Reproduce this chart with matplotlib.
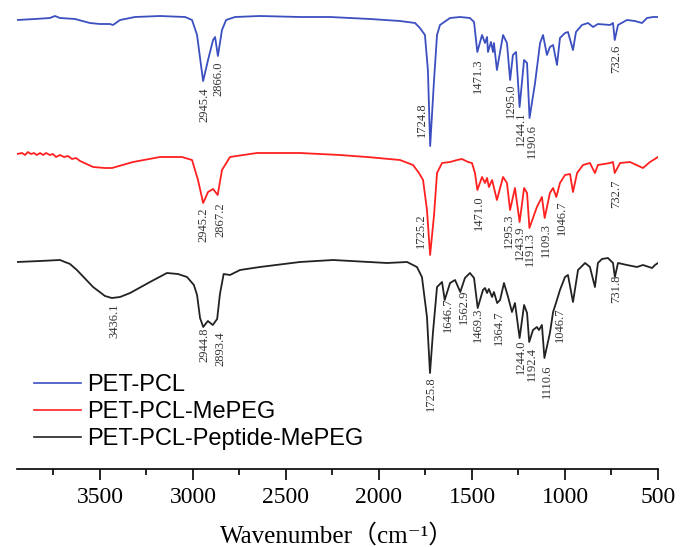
import matplotlib
matplotlib.use('Agg')
import matplotlib.pyplot as plt
from matplotlib.ticker import MultipleLocator

# wavenumber (cm-1) and transmittance (a.u., stacked)
wn_pcl = [3946, 3849, 3769, 3742, 3715, 3634, 3554, 3500, 3446, 3430, 3392, 3312, 3177, 3042,
          3005, 2978, 2957, 2945.4, 2919, 2892, 2881, 2866.0, 2844, 2822, 2774, 2640, 2425,
          2263, 2048, 1887, 1806, 1780, 1753, 1737, 1724.8, 1704, 1688, 1672, 1618, 1564, 1511,
          1489, 1471.3, 1446, 1430, 1419, 1414, 1398, 1387, 1382, 1366, 1333, 1312, 1295.0,
          1280, 1263, 1244.1, 1220, 1204, 1190.6, 1161, 1134, 1118, 1097, 1081, 1064, 1043,
          1027, 1000, 984, 957, 941, 909, 876, 849, 823, 758, 742, 732.6, 715, 667, 624, 586,
          559, 527, 500]
t_pcl = [449, 450, 451, 453, 451, 450, 446, 445, 445, 444, 449, 452, 453, 452,
         449, 434, 404, 388, 409, 429, 432, 413, 439, 449, 452, 453, 452,
         452, 450, 448, 446, 441, 434, 399, 323, 389, 434, 444, 451, 452, 451,
         447, 417, 434, 426, 432, 417, 427, 417, 426, 399, 434, 426, 389,
         414, 417, 362, 409, 406, 351, 386, 426, 434, 414, 422, 424, 404,
         431, 436, 437, 419, 437, 444, 446, 442, 445, 444, 446, 429, 444, 449, 448, 446,
         451, 452, 452]

wn_mepeg = [3946, 3919, 3903, 3887, 3871, 3855, 3839, 3822, 3806, 3790, 3769, 3753, 3736, 3715,
            3693, 3672, 3650, 3629, 3607, 3537, 3473, 3435, 3322, 3177, 3059, 3005, 2973,
            2945.2, 2919, 2892, 2867.2, 2844, 2801, 2656, 2425, 2210, 2064, 1887, 1817, 1785,
            1763, 1742, 1725.2, 1704, 1688, 1661, 1618, 1580, 1554, 1521, 1500, 1484, 1471.0,
            1446, 1430, 1419, 1409, 1392, 1366, 1333, 1312, 1295.3, 1269, 1243.9, 1220, 1204,
            1191.3, 1151, 1124, 1109.3, 1081, 1064, 1046.7, 1027, 1000, 973, 957, 935, 903,
            866, 839, 823, 758, 742, 732.7, 704, 651, 581, 543, 500]
t_mepeg = [315, 316, 314, 317, 315, 316, 314, 316, 314, 316, 314, 315, 312, 314,
           312, 313, 310, 311, 308, 302, 301, 301, 307, 312, 312, 309, 289,
           266, 277, 280, 274, 299, 312, 316, 316, 314, 312, 309, 304, 296,
           289, 259, 214, 254, 296, 306, 307, 309, 310, 307, 306, 296, 279,
           292, 286, 291, 282, 289, 269, 292, 286, 259, 281, 247, 281, 276,
           241, 262, 272, 251, 276, 281, 272, 286, 294, 295, 277, 296, 304,
           306, 296, 304, 306, 307, 296, 306, 307, 301, 307, 312]

wn_pep = [3946, 3822, 3715, 3661, 3624, 3537, 3473, 3436.1, 3392, 3338, 3231, 3140, 3081, 3032,
          2995, 2978, 2962, 2944.8, 2920, 2893.4, 2870, 2855, 2835, 2801, 2747, 2640, 2425,
          2247, 1957, 1849, 1796, 1769, 1742, 1725.8, 1710, 1688, 1661, 1646.7, 1618, 1591,
          1562.9, 1538, 1511, 1489, 1469.3, 1441, 1430, 1419, 1409, 1392, 1382, 1364.7, 1349,
          1328, 1306, 1285, 1269, 1244.0, 1220, 1204, 1192.4, 1172, 1151, 1140, 1124, 1110.6,
          1081, 1064, 1046.7, 1027, 1000, 984, 957, 930, 892, 866, 839, 823, 801, 769, 742,
          731.8, 715, 667, 613, 581, 532, 516, 500]
t_pep = [207, 208, 209, 205, 199, 182, 173, 171, 172, 176, 187, 196, 195, 192,
         184, 174, 151, 142, 148, 144, 150, 175, 195, 194, 199, 202, 207,
         209, 206, 207, 202, 192, 152, 96, 136, 182, 187, 169, 186, 189,
         177, 191, 196, 191, 161, 179, 181, 176, 180, 172, 177, 166, 169,
         186, 172, 157, 166, 131, 164, 156, 127, 139, 142, 139, 144, 111,
         136, 157, 167, 179, 192, 194, 167, 199, 206, 202, 182, 206, 210, 211, 206,
         192, 206, 204, 202, 204, 201, 204, 206]

# peak labels: text, label position (wavenumber), top of the label (a.u.)
lab_pcl = ['2945.4', '2866.0', '1724.8', '1471.3', '1295.0', '1244.1', '1190.6', '732.6']
lab_pcl_x = [2941, 2861, 1769, 1468, 1290, 1237, 1180, 726]
lab_pcl_y = [382, 407, 367, 411, 386, 357, 345, 424]

lab_mepeg = ['2945.2', '2867.2', '1725.2', '1471.0', '1295.3', '1243.9', '1191.3', '1109.3',
             '1046.7', '732.7']
lab_mepeg_x = [2946, 2855, 1774, 1462, 1301, 1243, 1186, 1102, 1016, 726]
lab_mepeg_y = [262, 267, 256, 274, 256, 244, 237, 246, 269, 289]

lab_pep = ['3436.1', '2944.8', '2893.4', '1725.8', '1646.7', '1562.9', '1469.3', '1364.7',
           '1244.0', '1192.4', '1110.6', '1046.7', '731.8']
lab_pep_x = [3425, 2941, 2855, 1720, 1629, 1543, 1468, 1355, 1239, 1177, 1097, 1027, 726]
lab_pep_y = [166, 141, 137, 93, 172, 179, 162, 159, 129, 122, 104, 162, 194]

names = ['PET-PCL', 'PET-PCL-MePEG', 'PET-PCL-Peptide-MePEG']
colors = ['#3b4fc0', '#ff2020', '#222222']

serif = ['Liberation Serif', 'DejaVu Serif', 'Noto Sans CJK SC']

fig = plt.figure(figsize=(6.8, 5.47), dpi=100)
ax = fig.add_axes([17/680, 78/547, 641/680, 469/547])

series = [(wn_pcl, t_pcl, lab_pcl, lab_pcl_x, lab_pcl_y),
          (wn_mepeg, t_mepeg, lab_mepeg, lab_mepeg_x, lab_mepeg_y),
          (wn_pep, t_pep, lab_pep, lab_pep_x, lab_pep_y)]
for (x, y, labs, lx, ly), name, c in zip(series, names, colors):
    ax.plot(x, y, color=c, lw=1.3, label=name)
    for s, px, py in zip(labs, lx, ly):
        ax.text(px, py, s, rotation=90, ha='center', va='top', fontsize=9,
                family=serif, color='#333333')

ax.set_xlim(3946, 500)
ax.set_ylim(0, 469)
for side in ['left', 'right', 'top']:
    ax.spines[side].set_visible(False)
ax.spines['bottom'].set_linewidth(1.2)
ax.set_yticks([])
ax.xaxis.set_major_locator(MultipleLocator(500))
ax.xaxis.set_minor_locator(MultipleLocator(250))
ax.tick_params(axis='x', which='major', direction='out', length=8, width=1.2, pad=5)
ax.tick_params(axis='x', which='minor', direction='out', length=4.5, width=1.2)
for t in ax.get_xticklabels():
    t.set_family(serif)
    t.set_fontsize(17)
ax.set_xlabel('Wavenumber（cm⁻¹）', family=serif, fontsize=18, labelpad=11)

leg = ax.legend(loc='upper left', bbox_to_anchor=(34/680, 1 - 374/547),
                bbox_transform=fig.transFigure, frameon=False,
                prop={'family': 'Liberation Sans', 'size': 17},
                handlelength=2.0, handletextpad=0.25, labelspacing=0.22,
                borderpad=0, borderaxespad=0)
for line in leg.get_lines():
    line.set_linewidth(1.2)

fig.savefig('out.png', dpi=100)
